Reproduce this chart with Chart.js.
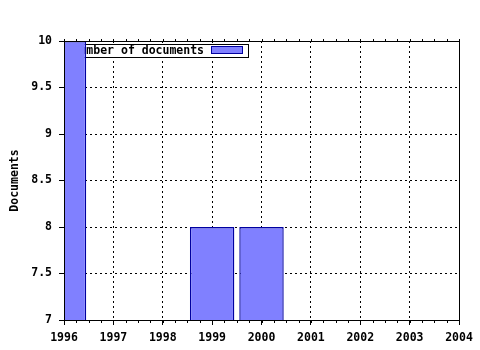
<!DOCTYPE html>
<html>
<head>
<meta charset="utf-8">
<script src="https://cdn.jsdelivr.net/npm/chart.js@4"></script>
<style>
  html, body { margin: 0; padding: 0; background: #fff; }
  #chart { display: block; }
</style>
</head>
<body>
<canvas id="chart" width="480" height="350"></canvas>
<script>
'use strict';
// dane z wykresu
var years = [1996, 1999, 2000];
var documents = [10, 8, 8];
var seriesName = 'Number of documents';
var yTitle = 'Documents';

var FONT = 'bold 11.5px "DejaVu Sans Mono"';
var fillColor = '#8080ff';
var edgeColor = '#0000a0';

// legenda rysowana wewnatrz pola wykresu, pod slupkami
var insideLegend = {
    id: 'insideLegend',
    beforeDatasetsDraw: function (chart) {
        var ctx = chart.ctx, a = chart.chartArea;
        ctx.save();
        ctx.font = FONT;
        var tw = ctx.measureText(seriesName).width;
        var x = a.left + 4.5, y = a.top + 3.5;
        var w = Math.round(4 + tw + 7 + 31 + 6), h = 13;
        ctx.fillStyle = '#fff';
        ctx.fillRect(x, y, w, h);
        ctx.strokeStyle = '#000';
        ctx.lineWidth = 1;
        ctx.strokeRect(x, y, w, h);
        ctx.fillStyle = '#000';
        ctx.textBaseline = 'middle';
        ctx.fillText(seriesName, x + 4, y + h / 2 + 0.5);
        var sx = Math.round(x + 4 + tw + 7) + 0.5;
        ctx.fillStyle = fillColor;
        ctx.fillRect(sx, y + 2, 31, 7);
        ctx.strokeStyle = edgeColor;
        ctx.strokeRect(sx, y + 2, 31, 7);
        ctx.restore();
    }
};

// ramka i drobne znaczniki osi
var frame = {
    id: 'frame',
    afterDatasetsDraw: function (chart) {
        var ctx = chart.ctx, a = chart.chartArea;
        var xs = chart.scales.x;
        ctx.save();
        ctx.strokeStyle = '#000';
        ctx.lineWidth = 1;
        ctx.beginPath();
        ctx.moveTo(a.left + 0.5, a.bottom + 0.5);
        ctx.lineTo(a.left + 0.5, a.top + 0.5);
        ctx.lineTo(a.right + 0.5, a.top + 0.5);
        ctx.lineTo(a.right + 0.5, a.bottom + 0.5);
        ctx.lineTo(a.left + 0.5, a.bottom + 0.5);
        for (var v = xs.min; v <= xs.max; v += 0.25) {
            var px = Math.round(xs.getPixelForValue(v)) + 0.5;
            ctx.moveTo(px, a.bottom);
            ctx.lineTo(px, a.bottom + 3);
            ctx.moveTo(px, a.top + 1);
            ctx.lineTo(px, a.top - 2);
        }
        ctx.stroke();
        ctx.restore();
    }
};

var tickFont = { family: 'DejaVu Sans Mono', size: 11.5, weight: 'bold' };

var ctx = document.getElementById('chart').getContext('2d');

var chart = new Chart(ctx, {
    type: 'bar',
    data: {
        datasets: [{
            label: seriesName,
            data: years.map(function (y, i) { return { x: y, y: documents[i] }; }),
            backgroundColor: fillColor,
            borderColor: edgeColor,
            borderWidth: 1.4,
            borderSkipped: false,
            inflateAmount: 0,
            barPercentage: 0.9,
            categoryPercentage: 1,
            clip: 0
        }]
    },
    options: {
        responsive: false,
        animation: false,
        devicePixelRatio: 1,
        layout: { padding: { left: 8, top: 41, right: 21, bottom: 0 } },
        plugins: {
            legend: { display: false },
            tooltip: { enabled: false }
        },
        scales: {
            x: {
                type: 'linear',
                min: 1996,
                max: 2004,
                offset: false,
                afterFit: function (s) { s.height = 30; },
                grid: {
                    offset: false,
                    color: '#000',
                    lineWidth: 1,
                    tickLength: 5,
                    tickColor: '#000',
                    tickBorderDash: []
                },
                border: { display: true, color: '#000', width: 1, dash: [2, 3] },
                ticks: {
                    stepSize: 1,
                    padding: 6,
                    color: '#000',
                    font: tickFont,
                    maxRotation: 0,
                    callback: function (v) { return String(v); }
                }
            },
            y: {
                min: 7,
                max: 10,
                afterFit: function (s) { s.width = 56; },
                grid: {
                    color: '#000',
                    lineWidth: 1,
                    tickLength: 5,
                    tickColor: '#000',
                    tickBorderDash: []
                },
                border: { display: true, color: '#000', width: 1, dash: [2, 3] },
                ticks: {
                    stepSize: 0.5,
                    padding: 7,
                    color: '#000',
                    font: tickFont,
                    callback: function (v) { return String(v); }
                },
                title: {
                    display: true,
                    text: yTitle,
                    color: '#000',
                    padding: 0,
                    font: tickFont
                }
            }
        }
    },
    plugins: [insideLegend, frame]
});
</script>
</body>
</html>
